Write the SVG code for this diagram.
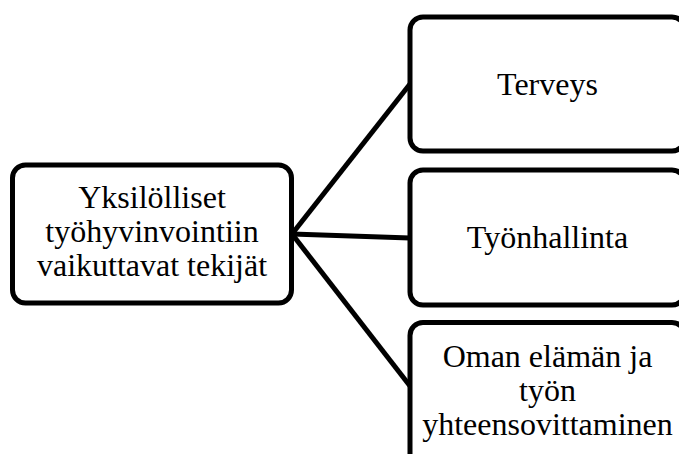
<svg xmlns="http://www.w3.org/2000/svg" width="679" height="454" viewBox="0 0 679 454">
  <style>
    .box { fill: #ffffff; stroke: #000000; stroke-width: 5; }
    .link { stroke: #000000; stroke-width: 5; fill: none; }
    .label { font-family: "Liberation Serif", "Times New Roman", serif; font-size: 32px; fill: #000000; text-anchor: middle; }
  </style>
  <rect x="0" y="0" width="679" height="454" fill="#ffffff"/>
  <g id="connectors">
    <line class="link" x1="292" y1="234" x2="410" y2="84"/>
    <line class="link" x1="292" y1="234" x2="410" y2="238"/>
    <line class="link" x1="292" y1="234" x2="410" y2="386"/>
  </g>
  <g id="node-yksilolliset">
    <rect class="box" x="12.5" y="165" width="279" height="138" rx="13"/>
    <text class="label" x="152" y="208">Yksilölliset</text>
    <text class="label" x="152" y="242">työhyvinvointiin</text>
    <text class="label" x="152" y="276">vaikuttavat tekijät</text>
  </g>
  <g id="node-terveys">
    <rect class="box" x="410" y="17" width="275" height="134" rx="13"/>
    <text class="label" x="547.5" y="95">Terveys</text>
  </g>
  <g id="node-tyonhallinta">
    <rect class="box" x="410" y="170" width="275" height="135" rx="13"/>
    <text class="label" x="547.5" y="248">Työnhallinta</text>
  </g>
  <g id="node-oman-elaman">
    <rect class="box" x="410" y="322.5" width="275" height="145" rx="13"/>
    <text class="label" x="547.5" y="367">Oman elämän ja</text>
    <text class="label" x="547.5" y="401">työn</text>
    <text class="label" x="547.5" y="435">yhteensovittaminen</text>
  </g>
</svg>
